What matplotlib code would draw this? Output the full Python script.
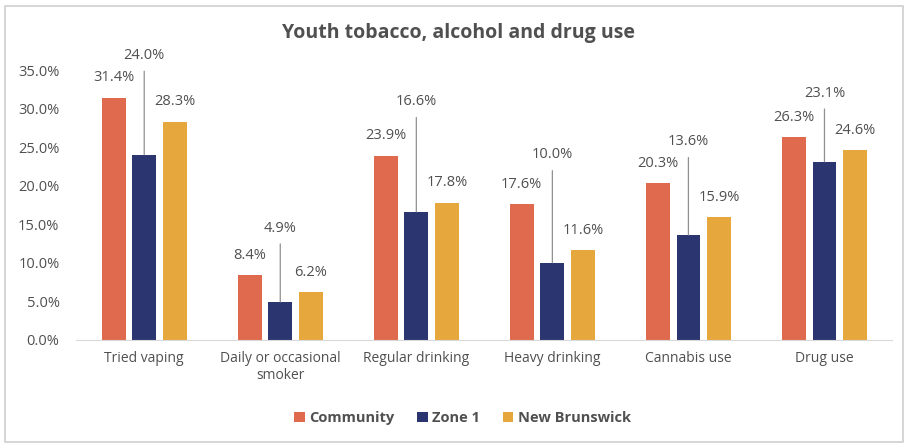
import numpy as np
import matplotlib.pyplot as plt
from matplotlib.patches import Rectangle

categories = ["Tried vaping", "Daily or occasional\nsmoker", "Regular drinking",
              "Heavy drinking", "Cannabis use", "Drug use"]
community = [31.4, 8.4, 23.9, 17.6, 20.3, 26.3]
zone1 = [24.0, 4.9, 16.6, 10.0, 13.6, 23.1]
new_brunswick = [28.3, 6.2, 17.8, 11.6, 15.9, 24.6]
series_names = ["Community", "Zone 1", "New Brunswick"]

# where the Zone 1 labels sit (in % units), leader lines drawn down to the bar
zone1_label_y = [36.9, 14.5, 30.9, 24.0, 25.7, 32.0]

colors = ["#E06A4E", "#2B3670", "#E6A73D"]
text_color = "#505050"

plt.rcParams['font.family'] = ['Open Sans', 'DejaVu Sans']

fig = plt.figure(figsize=(9.07, 4.46), dpi=100)
ax = fig.add_axes([0.084, 0.238, 0.9, 0.605])

x = np.arange(len(categories))
width = 0.175
step = 0.225

b1 = ax.bar(x - step, community, width, color=colors[0], label=series_names[0])
b2 = ax.bar(x, zone1, width, color=colors[1], label=series_names[1])
b3 = ax.bar(x + step, new_brunswick, width, color=colors[2], label=series_names[2])

for xi, v in zip(x - step, community):
    ax.text(xi, v + 1.6, f"{v:.1f}%", ha='center', va='bottom', fontsize=10.5, color=text_color)
for xi, v in zip(x + step, new_brunswick):
    ax.text(xi, v + 1.6, f"{v:.1f}%", ha='center', va='bottom', fontsize=10.5, color=text_color)
for xi, v, ly in zip(x, zone1, zone1_label_y):
    ax.annotate(f"{v:.1f}%", xy=(xi, v), xytext=(xi, ly), ha='center', va='center',
                fontsize=10.5, color=text_color, annotation_clip=False,
                arrowprops=dict(arrowstyle='-', color='#909090', lw=0.9, shrinkA=4, shrinkB=0))

ax.set_xlim(-0.5, len(categories) - 0.5)
ax.set_ylim(0, 35)
ax.set_yticks(np.arange(0, 36, 5))
ax.set_yticklabels([f"{t:.1f}%" for t in np.arange(0, 36, 5)])
ax.set_xticks(x)
ax.set_xticklabels(categories)
ax.tick_params(axis='both', length=0, labelcolor=text_color)
ax.tick_params(axis='y', pad=12, labelsize=10.5)
ax.tick_params(axis='x', pad=8, labelsize=10)
for s in ['top', 'right', 'left']:
    ax.spines[s].set_visible(False)
ax.spines['bottom'].set_color('#D9D9D9')

fig.text(0.506, 0.925, "Youth tobacco, alcohol and drug use", ha='center', va='center',
         fontsize=14, fontweight='bold', color=text_color)

leg = fig.legend(handles=[b1, b2, b3], loc='center', bbox_to_anchor=(0.51, 0.063), ncol=3,
                 frameon=False, handlelength=0.7, handleheight=0.7, handletextpad=0.3,
                 columnspacing=1.6, prop={'weight': 'bold', 'size': 10.5})
for t in leg.get_texts():
    t.set_color(text_color)

fig.patches.append(Rectangle((0.006, 0.008), 0.99, 0.978, transform=fig.transFigure,
                             fill=False, edgecolor='#D0D0D0', lw=1.2))

fig.savefig("out.png", dpi=100)
